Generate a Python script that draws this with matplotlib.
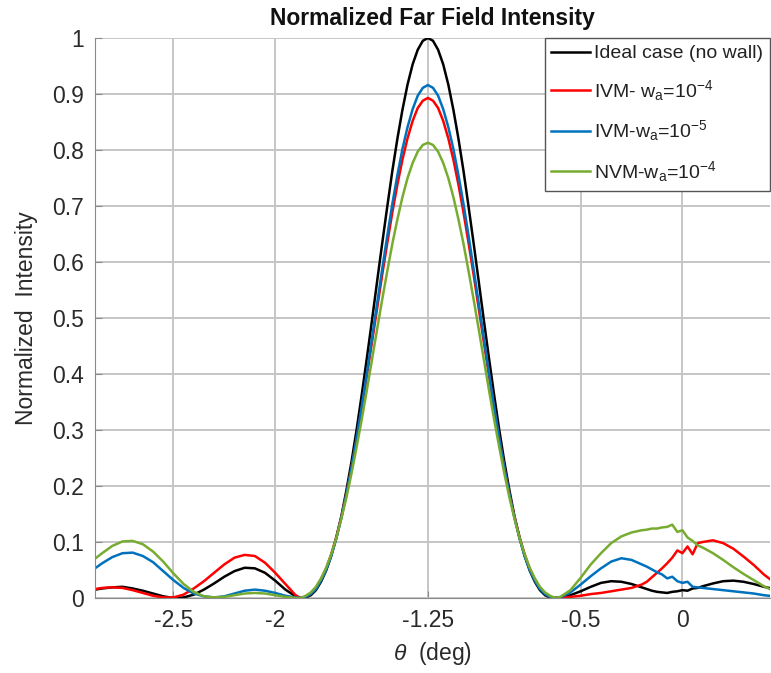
import numpy as np
import matplotlib
matplotlib.use("Agg")
import matplotlib.pyplot as plt

plt.rcParams['font.family'] = ['Liberation Sans', 'DejaVu Sans']
plt.rcParams['mathtext.fontset'] = 'custom'
plt.rcParams['mathtext.rm'] = 'Liberation Sans'
plt.rcParams['mathtext.it'] = 'Liberation Sans:italic'

# ---- data ----
theta = np.concatenate([
    np.linspace(-2.90, -1.90, 21),
    np.linspace(-1.875, -0.625, 51),
    np.linspace(-0.60, -0.20, 9),
    np.linspace(-0.175, 0.10, 12),
    np.linspace(0.15, 0.45, 7),
])

ideal = [
    0.014, 0.017, 0.019, 0.020, 0.017, 0.013, 0.008, 0.003, 0.000, 0.001, 0.006,
    0.015, 0.026, 0.038, 0.048, 0.054, 0.053, 0.045, 0.031, 0.015, 0.003,
    0.000, 0.001, 0.005, 0.014, 0.029, 0.049, 0.075, 0.108, 0.146, 0.193, 0.244,
    0.301, 0.363, 0.428, 0.495, 0.564, 0.632, 0.698, 0.762, 0.820, 0.872, 0.917,
    0.953, 0.979, 0.995, 1.000,
    0.995, 0.979, 0.953, 0.917, 0.872, 0.820, 0.762, 0.698, 0.632, 0.564, 0.495,
    0.428, 0.363, 0.301, 0.244, 0.193, 0.146, 0.108, 0.075, 0.049, 0.029, 0.014,
    0.005, 0.001, 0.000,
    0.001, 0.005, 0.012, 0.020, 0.027, 0.030, 0.029, 0.025, 0.019,
    0.016, 0.013, 0.011, 0.010, 0.009, 0.011, 0.012, 0.014, 0.013, 0.017, 0.018, 0.021,
    0.026, 0.030, 0.031, 0.029, 0.025, 0.020, 0.016,
]

ivm_4 = [
    0.015, 0.018, 0.019, 0.018, 0.014, 0.009, 0.004, 0.001, 0.001, 0.006, 0.017,
    0.030, 0.045, 0.060, 0.072, 0.077, 0.075, 0.063, 0.045, 0.025, 0.005,
    0.000, 0.002, 0.008, 0.018, 0.033, 0.052, 0.078, 0.108, 0.145, 0.186, 0.233,
    0.284, 0.339, 0.397, 0.456, 0.516, 0.576, 0.633, 0.688, 0.738, 0.783, 0.821,
    0.852, 0.875, 0.888, 0.893,
    0.888, 0.875, 0.852, 0.821, 0.783, 0.738, 0.688, 0.633, 0.576, 0.516, 0.456,
    0.397, 0.339, 0.284, 0.233, 0.186, 0.145, 0.108, 0.078, 0.052, 0.033, 0.018,
    0.008, 0.002, 0.000,
    0.000, 0.002, 0.004, 0.007, 0.009, 0.012, 0.015, 0.018, 0.024,
    0.029, 0.037, 0.045, 0.053, 0.062, 0.072, 0.085, 0.080, 0.092, 0.078, 0.098, 0.100,
    0.103, 0.098, 0.088, 0.074, 0.059, 0.042, 0.028,
]

ivm_5 = [
    0.049, 0.062, 0.073, 0.080, 0.081, 0.075, 0.064, 0.048, 0.032, 0.018, 0.008,
    0.003, 0.001, 0.003, 0.008, 0.013, 0.015, 0.013, 0.009, 0.004, 0.001,
    0.000, 0.002, 0.007, 0.016, 0.031, 0.050, 0.075, 0.106, 0.143, 0.186, 0.233,
    0.286, 0.342, 0.401, 0.463, 0.525, 0.586, 0.646, 0.703, 0.755, 0.802, 0.841,
    0.873, 0.897, 0.911, 0.916,
    0.911, 0.897, 0.873, 0.841, 0.802, 0.755, 0.703, 0.646, 0.586, 0.525, 0.463,
    0.401, 0.342, 0.286, 0.233, 0.186, 0.143, 0.106, 0.075, 0.050, 0.031, 0.016,
    0.007, 0.002, 0.000,
    0.001, 0.010, 0.024, 0.039, 0.053, 0.065, 0.071, 0.068, 0.060,
    0.056, 0.051, 0.046, 0.042, 0.035, 0.038, 0.030, 0.027, 0.029, 0.020, 0.019, 0.018,
    0.016, 0.014, 0.012, 0.010, 0.008, 0.005, 0.003,
]

nvm_4 = [
    0.066, 0.080, 0.093, 0.101, 0.102, 0.096, 0.083, 0.065, 0.044, 0.025, 0.011,
    0.003, 0.001, 0.002, 0.005, 0.008, 0.009, 0.008, 0.005, 0.002, 0.000,
    0.000, 0.004, 0.010, 0.020, 0.035, 0.054, 0.078, 0.107, 0.142, 0.180, 0.223,
    0.270, 0.319, 0.371, 0.425, 0.479, 0.532, 0.583, 0.632, 0.676, 0.716, 0.750,
    0.777, 0.797, 0.809, 0.813,
    0.809, 0.797, 0.777, 0.750, 0.716, 0.676, 0.632, 0.583, 0.532, 0.479, 0.425,
    0.371, 0.319, 0.270, 0.223, 0.180, 0.142, 0.107, 0.078, 0.054, 0.035, 0.020,
    0.010, 0.004, 0.000,
    0.002, 0.014, 0.036, 0.060, 0.080, 0.098, 0.110, 0.117, 0.121,
    0.122, 0.124, 0.124, 0.126, 0.127, 0.131, 0.118, 0.121, 0.108, 0.102, 0.094, 0.090,
    0.080, 0.068, 0.055, 0.043, 0.032, 0.021, 0.012,
]

labels = [
    'Ideal case (no wall)',
    r'IVM- w$_{\mathregular{a}}$=10$^{\mathregular{-4}}$',
    r'IVM-w$_{\mathregular{a}}$=10$^{\mathregular{-5}}$',
    r'NVM-w$_{\mathregular{a}}$=10$^{\mathregular{-4}}$',
]
colors = ['#000000', '#ff0000', '#0072bd', '#77ac30']

xticks = [-2.5, -2, -1.25, -0.5, 0]
xticklabels = ['-2.5', '-2', '-1.25', '-0.5', '0']
yticks = [0, 0.1, 0.2, 0.3, 0.4, 0.5, 0.6, 0.7, 0.8, 0.9, 1.0]
yticklabels = ['0', '0.1', '0.2', '0.3', '0.4', '0.5', '0.6', '0.7', '0.8', '0.9', '1']

# ---- figure ----
W, H = 771, 673
fig = plt.figure(figsize=(W / 100, H / 100), dpi=100)
ax = fig.add_axes([95 / W, 1 - 598 / H, (770 - 95) / W, (598 - 38) / H])

for y, lab, c in zip([ideal, ivm_4, ivm_5, nvm_4], labels, colors):
    ax.plot(theta, y, color=c, lw=1.8, label=lab)

ax.set_xlim(-2.885, 0.43)
ax.set_ylim(0, 1)
ax.set_xticks(xticks)
ax.set_xticklabels(xticklabels)
ax.set_yticks(yticks)
ax.set_yticklabels(yticklabels)
ax.grid(True, color='#c6c6c6', lw=1.4)
ax.set_axisbelow(True)
ax.tick_params(direction='in', length=5, width=0.8, colors='#8a8a8a',
               labelcolor='#2a2a2a', labelsize=16.5, pad=8)
for side in ['left', 'bottom']:
    ax.spines[side].set_color('#8a8a8a')
for side in ['top', 'right']:
    ax.spines[side].set_visible(False)

ax.set_title('Normalized Far Field Intensity', fontsize=16.5, fontweight='bold',
             color='#111111', pad=9)
ax.set_xlabel(r'$\theta$  (deg)', fontsize=16.5, color='#2a2a2a', labelpad=6)
ax.set_ylabel('Normalized  Intensity', fontsize=16.5, color='#2a2a2a', labelpad=10)

leg = ax.legend(loc='upper right', fontsize=14, frameon=True, fancybox=False,
                edgecolor='#555555', framealpha=1, borderaxespad=0,
                handlelength=2.0, handletextpad=0.2, labelspacing=0.8,
                borderpad=0.35)
leg.get_frame().set_linewidth(1.0)
for t in leg.get_texts():
    t.set_color('#222222')

fig.savefig('out.png', dpi=100)
